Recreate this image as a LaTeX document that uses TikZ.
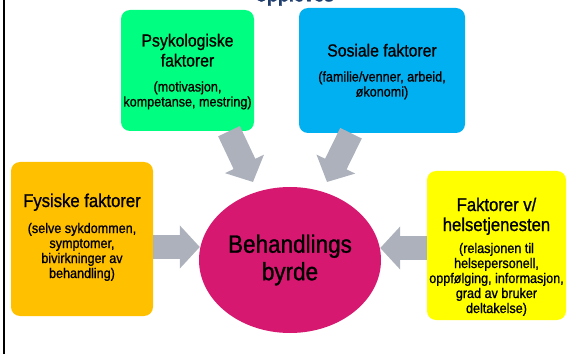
\documentclass[tikz,border=0pt]{standalone}
\usepackage{fontspec}
\setmainfont{Liberation Sans}[FakeStretch=0.9, FakeBold=1.0]
\usepackage{tikz}
\usetikzlibrary{arrows.meta,shapes}
\usepackage{xcolor}
\definecolor{bgreen}{RGB}{0,255,128}
\definecolor{bblue}{RGB}{0,176,240}
\definecolor{borange}{RGB}{255,192,0}
\definecolor{byellow}{RGB}{255,255,0}
\definecolor{bmagenta}{RGB}{214,24,112}
\definecolor{bgrey}{RGB}{172,177,188}
\definecolor{bnavy}{RGB}{31,62,110}
\newcommand{\tittel}[1][17.5]{\fontsize{#1}{20}\selectfont}
\newcommand{\undertekst}{\fontsize{14}{15}\selectfont}
\tikzstyle{faktor} = [rectangle, rounded corners=9pt, inner sep=0pt, text=black, text depth=0pt]
\tikzstyle{pil} = [line width=24pt, -{Triangle[length=20pt,width=42pt]}, color=bgrey]

\begin{document}
\begin{tikzpicture}[x=1pt, y=1pt]
\useasboundingbox (0,0) rectangle (571,354);
% frame edge and cut title
\draw[line width=2.2pt] (4,0) -- (4,354);
\node (overskrift) [font=\bfseries\fontsize{20}{24}\selectfont, text=bnavy, anchor=base] at (295,352.5) {oppleves};

% Factors (text height puts the last line)
\node (psyk) [faktor, fill=bgreen, minimum width=133pt, minimum height=121pt, text height=72pt] at (187.5,283.5)
  {\vbox{\hsize=133pt\centering{\tittel Psykologiske\\faktorer\par}\vspace{10pt}{\undertekst (motivasjon,\\kompetanse, mestring)\par}}};
\node (sos) [faktor, fill=bblue, minimum width=166pt, minimum height=125pt, text height=52pt] at (382,283.5)
  {\vbox{\hsize=166pt\centering{\tittel Sosiale faktorer\par}\vspace{10pt}{\undertekst (familie/venner, arbeid,\\økonomi)\par}}};
\node (fys) [faktor, fill=borange, minimum width=142pt, minimum height=154pt, text height=78pt] at (82,115)
  {\vbox{\hsize=142pt\centering{\tittel[18.5] Fysiske faktorer\par}\vspace{11pt}{\undertekst (selve sykdommen,\\symptomer,\\bivirkninger av\\behandling)\par}}};
\node (helse) [faktor, fill=byellow, minimum width=139pt, minimum height=149pt, text height=135pt] at (496.5,108.5)
  {\vbox{\hsize=139pt\centering{\tittel[18.5] Faktorer v/\\helsetjenesten\par}\vspace{7pt}{\undertekst (relasjonen til\\helsepersonell,\\oppfølging, informasjon,\\grad av bruker\\deltakelse)\par}}};

% Burden
\node (byrde) [ellipse, fill=bmagenta, minimum width=182pt, minimum height=146pt, inner sep=0pt, align=center, font=\fontsize{25}{27.5}\selectfont] at (290,94) {Behandlings\\byrde};

% Influence arrows
\draw[pil] ([xshift=41.5pt]psyk.south) -- ([shift={(-37pt,78pt)}]byrde.center);
\draw[pil] ([xshift=-31pt]sos.south) -- ([shift={(37pt,78pt)}]byrde.center);
\draw[pil] ([yshift=-8pt]fys.east) -- ([shift={(1pt,13pt)}]byrde.west);
\draw[pil] ([yshift=-2.5pt]helse.west) -- ([shift={(-1pt,12pt)}]byrde.east);
\end{tikzpicture}
\end{document}
